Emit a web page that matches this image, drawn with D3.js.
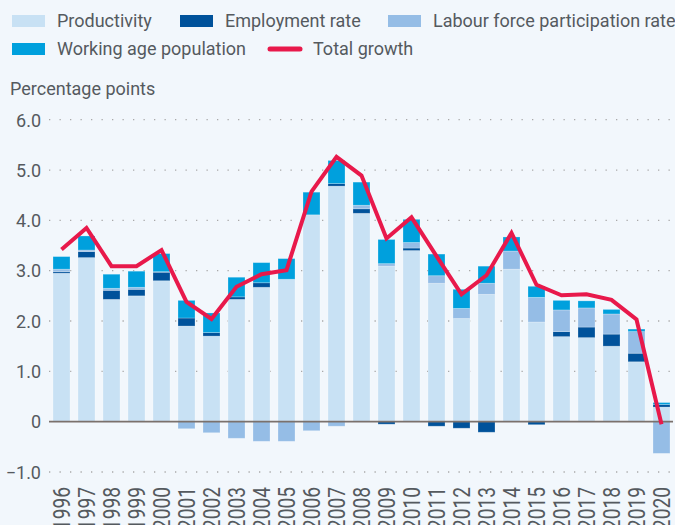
<!DOCTYPE html>
<html>
<head>
<meta charset="utf-8">
<script src="https://cdn.jsdelivr.net/npm/d3@7"></script>
<style>
  body { margin: 0; background: #f2f7fc; }
  text { font-family: Roboto, "Noto Sans", sans-serif; fill: #555a5f; }
</style>
</head>
<body>
<div id="chart"></div>
<script>
// years on the x axis
var years = ["1996","1997","1998","1999","2000","2001","2002","2003","2004","2005","2006","2007",
             "2008","2009","2010","2011","2012","2013","2014","2015","2016","2017","2018","2019","2020"];

// contributions, percentage points
var productivity = [2.95,3.26,2.43,2.50,2.80,1.90,1.70,2.43,2.67,2.83,4.11,4.68,4.14,3.09,3.40,2.75,2.05,2.53,3.03,1.98,1.69,1.67,1.50,1.19,0.29];
var employment   = [0.03,0.12,0.18,0.13,0.17,0.16,0.07,0.05,0.09,0.00,0.00,0.05,0.09,-0.05,0.05,-0.09,-0.13,-0.21,0.00,-0.06,0.10,0.21,0.24,0.17,0.05];
var participation = [0.05,0.03,0.04,0.04,0.01,-0.14,-0.22,-0.33,-0.39,-0.39,-0.18,-0.09,0.07,0.05,0.11,0.15,0.20,0.22,0.36,0.49,0.43,0.38,0.40,0.43,-0.63];
var workingAge   = [0.25,0.28,0.28,0.32,0.36,0.35,0.39,0.39,0.40,0.41,0.45,0.46,0.46,0.48,0.46,0.43,0.38,0.34,0.28,0.22,0.19,0.14,0.09,0.05,0.04];
var totalGrowth  = [3.42,3.85,3.09,3.09,3.41,2.38,2.04,2.68,2.93,3.01,4.57,5.26,4.89,3.64,4.06,3.29,2.53,2.91,3.75,2.72,2.51,2.53,2.42,2.03,-0.05];

var yTicks = [-1, 0, 1, 2, 3, 4, 5, 6];

var keys = ["productivity", "employment", "participation", "workingAge"];
var labels = {productivity: "Productivity", employment: "Employment rate",
              participation: "Labour force participation rate", workingAge: "Working age population"};
var colors = {productivity: "#c8e1f4", employment: "#00529b", participation: "#95bde6", workingAge: "#00a0dd"};
var red = "#e8194b";

var width = 675, height = 525;

var svg = d3.select("#chart")
  .append("svg")
    .attr("width", width)
    .attr("height", height);

// table for the stack
var table = years.map(function(y, i) {
  return {year: y, productivity: productivity[i], employment: employment[i],
          participation: participation[i], workingAge: workingAge[i]};
});

var x = d3.scaleBand()
  .domain(years)
  .range([49, 674])
  .paddingInner(0.32)
  .paddingOuter(0.16);

var y = d3.scaleLinear()
  .domain([-1, 6])
  .range([472, 119.7]);

// dotted gridlines
svg.append("g")
  .selectAll("line")
  .data(yTicks.filter(function(d) { return d !== 0; }))
  .enter()
  .append("line")
    .attr("x1", 49)
    .attr("x2", 675)
    .attr("y1", function(d) { return y(d); })
    .attr("y2", function(d) { return y(d); })
    .attr("stroke", "#a9a9a9")
    .attr("stroke-width", 1.3)
    .attr("stroke-dasharray", "1.3,9.2");

// y axis labels
var yAxis = svg.append("g")
  .attr("transform", "translate(41,0)")
  .call(d3.axisLeft(y).tickValues(yTicks).tickSize(0).tickPadding(0)
    .tickFormat(function(d) { return d === 0 ? "0" : d3.format(".1f")(d); }));
yAxis.select(".domain").remove();
yAxis.selectAll("text")
  .style("font-size", "18px")
  .style("font-family", "Roboto, sans-serif")
  .attr("fill", "#555a5f")
  .attr("dy", "0.35em");

// stacked bars
var series = d3.stack()
  .keys(keys)
  .offset(d3.stackOffsetDiverging)(table);

svg.append("g")
  .selectAll("g")
  .data(series)
  .enter()
  .append("g")
    .attr("fill", function(d) { return colors[d.key]; })
  .selectAll("rect")
  .data(function(d) { return d; })
  .enter()
  .append("rect")
    .attr("x", function(d) { return x(d.data.year); })
    .attr("width", x.bandwidth())
    .attr("y", function(d) { return y(Math.max(d[0], d[1])); })
    .attr("height", function(d) { return Math.abs(y(d[0]) - y(d[1])); })
    .attr("stroke", "#ffffff")
    .attr("stroke-opacity", 0.3)
    .attr("stroke-width", 0.8);

// zero line
svg.append("line")
  .attr("x1", 49)
  .attr("x2", 673)
  .attr("y1", y(0))
  .attr("y2", y(0))
  .attr("stroke", "#7b716c")
  .attr("stroke-width", 1.6);

// total growth line
var line = d3.line()
  .x(function(d, i) { return x(years[i]) + x.bandwidth() / 2; })
  .y(function(d) { return y(d); });

svg.append("path")
  .datum(totalGrowth)
  .attr("d", line)
  .attr("fill", "none")
  .attr("stroke", red)
  .attr("stroke-width", 4)
  .attr("stroke-linejoin", "miter");

// x axis labels, rotated and narrowed (condensed look)
svg.append("g")
  .selectAll("text")
  .data(years)
  .enter()
  .append("text")
    .attr("transform", function(d) {
      return "translate(" + (x(d) + x.bandwidth() / 2) + ",487)rotate(-90)scale(0.8,1)";
    })
    .attr("text-anchor", "end")
    .attr("dy", "0.36em")
    .style("font-size", "24px")
    .text(function(d) { return d; });

// axis title
svg.append("text")
  .attr("x", 10)
  .attr("y", 95)
  .style("font-size", "18px")
  .text("Percentage points");

// legend
var legendItems = [
  {key: "productivity", x: 12, y: 21},
  {key: "employment", x: 180, y: 21},
  {key: "participation", x: 388, y: 21},
  {key: "workingAge", x: 12, y: 49}
];

var legend = svg.append("g");
legendItems.forEach(function(item) {
  legend.append("rect")
    .attr("x", item.x)
    .attr("y", item.y - 6)
    .attr("width", 33)
    .attr("height", 12)
    .attr("fill", colors[item.key]);
  legend.append("text")
    .attr("x", item.x + 45)
    .attr("y", item.y)
    .attr("dy", "0.35em")
    .style("font-size", "18px")
    .text(labels[item.key]);
});

legend.append("line")
  .attr("x1", 270)
  .attr("x2", 300)
  .attr("y1", 49)
  .attr("y2", 49)
  .attr("stroke", red)
  .attr("stroke-width", 5)
  .attr("stroke-linecap", "round");
legend.append("text")
  .attr("x", 313)
  .attr("y", 49)
  .attr("dy", "0.35em")
  .style("font-size", "18px")
  .text("Total growth");
</script>
</body>
</html>
